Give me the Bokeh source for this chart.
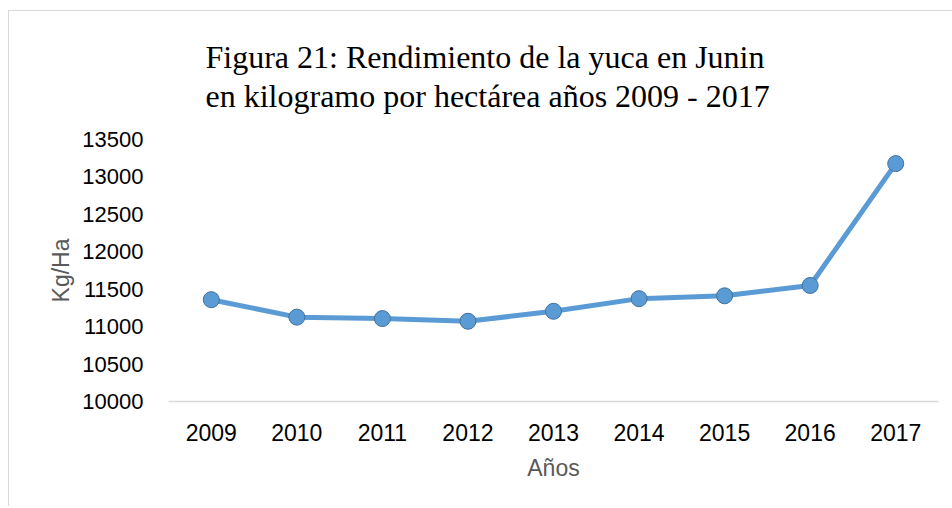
from bokeh.plotting import figure
from bokeh.models import Title, FactorRange, Range1d, FixedTicker
from bokeh.embed import file_html
from bokeh.resources import INLINE

years = ["2009", "2010", "2011", "2012", "2013", "2014", "2015", "2016", "2017"]
rendimiento = [11360, 11127, 11108, 11072, 11205, 11374, 11412, 11550, 13178]
y_ticks = [10000, 10500, 11000, 11500, 12000, 12500, 13000, 13500]
title_line1 = "Figura 21: Rendimiento de la yuca en Junin"
title_line2 = "en kilogramo por hectárea años 2009 - 2017"

p = figure(width=944, height=496, x_range=FactorRange(*years),
           y_range=Range1d(10000, 13500), title=None,
           output_backend="svg", toolbar_location=None,
           min_border_left=159, min_border_right=15,
           min_border_top=120, min_border_bottom=106)
p.margin = (10, 0, 0, 8)
p.styles = {"border-top": "1px solid #d9d9d9", "border-left": "1px solid #d9d9d9"}
p.outline_line_color = None
p.xgrid.grid_line_color = None
p.ygrid.grid_line_color = None

p.line(years, rendimiento, line_color="#5b9bd5", line_width=5)
p.scatter(years, rendimiento, size=16, fill_color="#5b9bd5",
          line_color="#41719c", line_width=1)

# axes
p.yaxis.ticker = FixedTicker(ticks=y_ticks)
p.yaxis.axis_line_color = None
p.yaxis.major_tick_line_color = None
p.yaxis.minor_tick_line_color = None
p.yaxis.major_label_text_font = "Liberation Sans"
p.yaxis.major_label_text_font_size = "22px"
p.yaxis.major_label_text_color = "#000000"
p.yaxis.major_label_standoff = 19
p.yaxis.axis_label = "Kg/Ha"
p.yaxis.axis_label_text_font = "Liberation Sans"
p.yaxis.axis_label_text_font_size = "23px"
p.yaxis.axis_label_text_font_style = "normal"
p.yaxis.axis_label_text_color = "#595959"
p.yaxis.axis_label_standoff = 5

p.xaxis.axis_line_color = "#d9d9d9"
p.xaxis.axis_line_width = 1.5
p.xaxis.major_tick_line_color = None
p.xaxis.minor_tick_line_color = None
p.xaxis.major_label_text_font = "Liberation Sans"
p.xaxis.major_label_text_font_size = "23px"
p.xaxis.major_label_text_color = "#000000"
p.xaxis.major_label_standoff = 16
p.xaxis.axis_label = "Años"
p.xaxis.axis_label_text_font = "Liberation Sans"
p.xaxis.axis_label_text_font_size = "23px"
p.xaxis.axis_label_text_font_style = "normal"
p.xaxis.axis_label_text_color = "#595959"
p.xaxis.axis_label_standoff = 11

# two-line title
p.add_layout(Title(text=title_line1 + "\n" + title_line2, align="left",
                   offset=37, standoff=50, text_line_height=1.1,
                   text_font="Liberation Serif", text_font_size="32px",
                   text_font_style="normal", text_color="#000000"), "above")

open("out.html", "w").write(file_html(p, INLINE))
